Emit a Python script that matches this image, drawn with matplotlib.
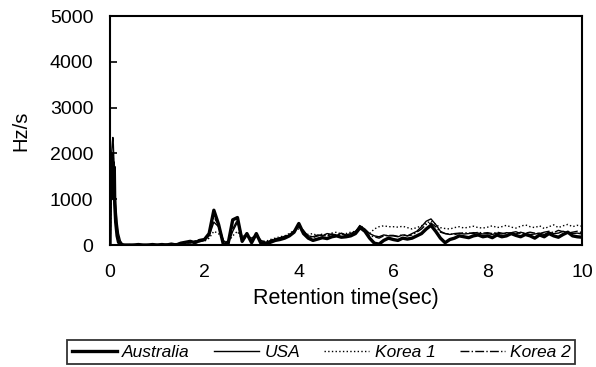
import matplotlib
matplotlib.use('Agg')
import matplotlib.pyplot as plt
import numpy as np

plt.rcParams['font.family'] = ['Liberation Sans', 'DejaVu Sans']

# sample times (sec): dense start for the injection peak, then 0.1 s steps
t_early = [0.0, 0.01, 0.02, 0.03, 0.04, 0.05, 0.06, 0.07, 0.08, 0.09, 0.10,
           0.12, 0.15, 0.18, 0.22, 0.26, 0.30, 0.35]
t_main = np.round(np.arange(0.4, 10.001, 0.1), 2)
time = list(t_early) + list(t_main)

australia = [
    0, 1800, 1000, 2000, 1100, 1900, 1200, 1800, 1050, 1700, 900, 500, 200, 60, 15, 0, 0, 0,
    0, 0, 10, 0, 0, 10,
    0, 10, 0, 20, 0, 40, 60, 80, 50, 100,
    120, 250, 760, 450, 20, 20, 550, 600, 80, 250,
    50, 250, 30, 30, 60, 100, 120, 150, 200, 280,
    470, 250, 150, 100, 130, 160, 140, 180, 200, 170,
    180, 200, 250, 380, 300, 150, 40, 20, 100, 150,
    120, 100, 150, 130, 150, 200, 250, 350, 430, 300,
    150, 50, 120, 150, 200, 180, 160, 200, 220, 180,
    200, 160, 220, 180, 200, 250, 210, 180, 230, 200,
    150, 220, 180, 250, 200, 170, 230, 280, 200, 180, 170,
]
usa = [
    0, 400, 1200, 1900, 2100, 2250, 2350, 2200, 1900, 1600, 1300, 900, 500, 250, 90, 30, 10, 0,
    0, 10, 0, 0, 10, 0,
    10, 0, 20, 0, 30, 20, 50, 40, 90, 70,
    100, 200, 500, 400, 100, 20, 300, 500, 150, 200,
    150, 220, 100, 60, 80, 130, 150, 170, 220, 300,
    400, 300, 200, 180, 220, 200, 250, 230, 200, 260,
    220, 250, 300, 420, 350, 250, 200, 180, 220, 200,
    200, 180, 220, 200, 250, 300, 400, 520, 570, 450,
    300, 250, 230, 250, 260, 240, 250, 270, 260, 240,
    250, 230, 260, 240, 270, 260, 240, 280, 250, 230,
    240, 260, 230, 280, 250, 260, 300, 270, 250, 260, 240,
]
korea1 = [
    0, 300, 900, 1500, 1800, 1700, 1600, 1400, 1200, 1000, 800, 500, 250, 100, 30, 10, 0, 0,
    0, 0, 0, 10, 0, 0,
    0, 10, 0, 10, 20, 30, 40, 60, 80, 120,
    80, 150, 300, 250, 100, 60, 200, 300, 120, 180,
    120, 180, 90, 80, 120, 150, 180, 200, 250, 320,
    350, 280, 230, 250, 200, 240, 220, 260, 280, 240,
    250, 280, 300, 350, 300, 250, 350, 400, 420, 400,
    400, 390, 410, 380, 350, 380, 420, 480, 520, 450,
    380, 360, 350, 380, 400, 370, 390, 410, 380, 370,
    390, 420, 380, 400, 430, 390, 370, 410, 440, 400,
    380, 420, 360, 400, 440, 380, 420, 450, 400, 430, 410,
]
korea2 = [
    0, 500, 1300, 1800, 2000, 1900, 1800, 1600, 1400, 1200, 1000, 600, 300, 120, 40, 10, 0, 0,
    10, 0, 0, 0, 0, 10,
    0, 0, 10, 20, 10, 50, 30, 70, 60, 90,
    110, 250, 600, 450, 90, 30, 350, 550, 180, 230,
    100, 200, 80, 50, 100, 140, 160, 190, 230, 310,
    420, 320, 180, 160, 200, 230, 190, 240, 220, 250,
    200, 230, 280, 440, 330, 200, 180, 150, 200, 210,
    210, 190, 230, 200, 220, 280, 350, 450, 480, 400,
    280, 250, 240, 230, 250, 270, 260, 250, 280, 260,
    270, 250, 280, 260, 240, 270, 290, 250, 260, 280,
    260, 250, 280, 300, 270, 320, 290, 260, 280, 300, 270,
]

fig = plt.figure(figsize=(5.96, 3.67), dpi=100)
ax = fig.add_axes([0.1846, 0.3324, 0.7919, 0.6236])

ax.plot(time, korea1, color='black', lw=1.0, ls=':', label='Korea 1')
ax.plot(time, korea2, color='black', lw=1.0, ls='-.', label='Korea 2')
ax.plot(time, usa, color='black', lw=1.0, ls='-', label='USA')
ax.plot(time, australia, color='black', lw=2.4, ls='-', label='Australia')

ax.set_xlim(0, 10)
ax.set_ylim(0, 5000)
ax.set_xticks([0, 2, 4, 6, 8, 10])
ax.set_yticks([0, 1000, 2000, 3000, 4000, 5000])
ax.tick_params(axis='y', direction='in', length=5, width=1.2, labelsize=14, pad=12)
ax.tick_params(axis='x', length=0, labelsize=14, pad=14)
for s in ax.spines.values():
    s.set_linewidth(1.5)

ax.set_xlabel('Retention time(sec)', fontsize=15.5, labelpad=5)
ax.set_ylabel('Hz/s', fontsize=14.5, labelpad=14)

h, l = ax.get_legend_handles_labels()
order = [3, 2, 0, 1]
leg = fig.legend([h[i] for i in order], [l[i] for i in order], loc='center',
                 bbox_to_anchor=(0.539, 0.04), ncol=4, frameon=True, fancybox=False,
                 prop={'style': 'italic', 'size': 12.5}, handlelength=2.6,
                 columnspacing=1.4, handletextpad=0.3, borderpad=0.25)
leg.get_frame().set_edgecolor('black')
leg.get_frame().set_linewidth(1.3)

plt.savefig('out.png', dpi=100)
